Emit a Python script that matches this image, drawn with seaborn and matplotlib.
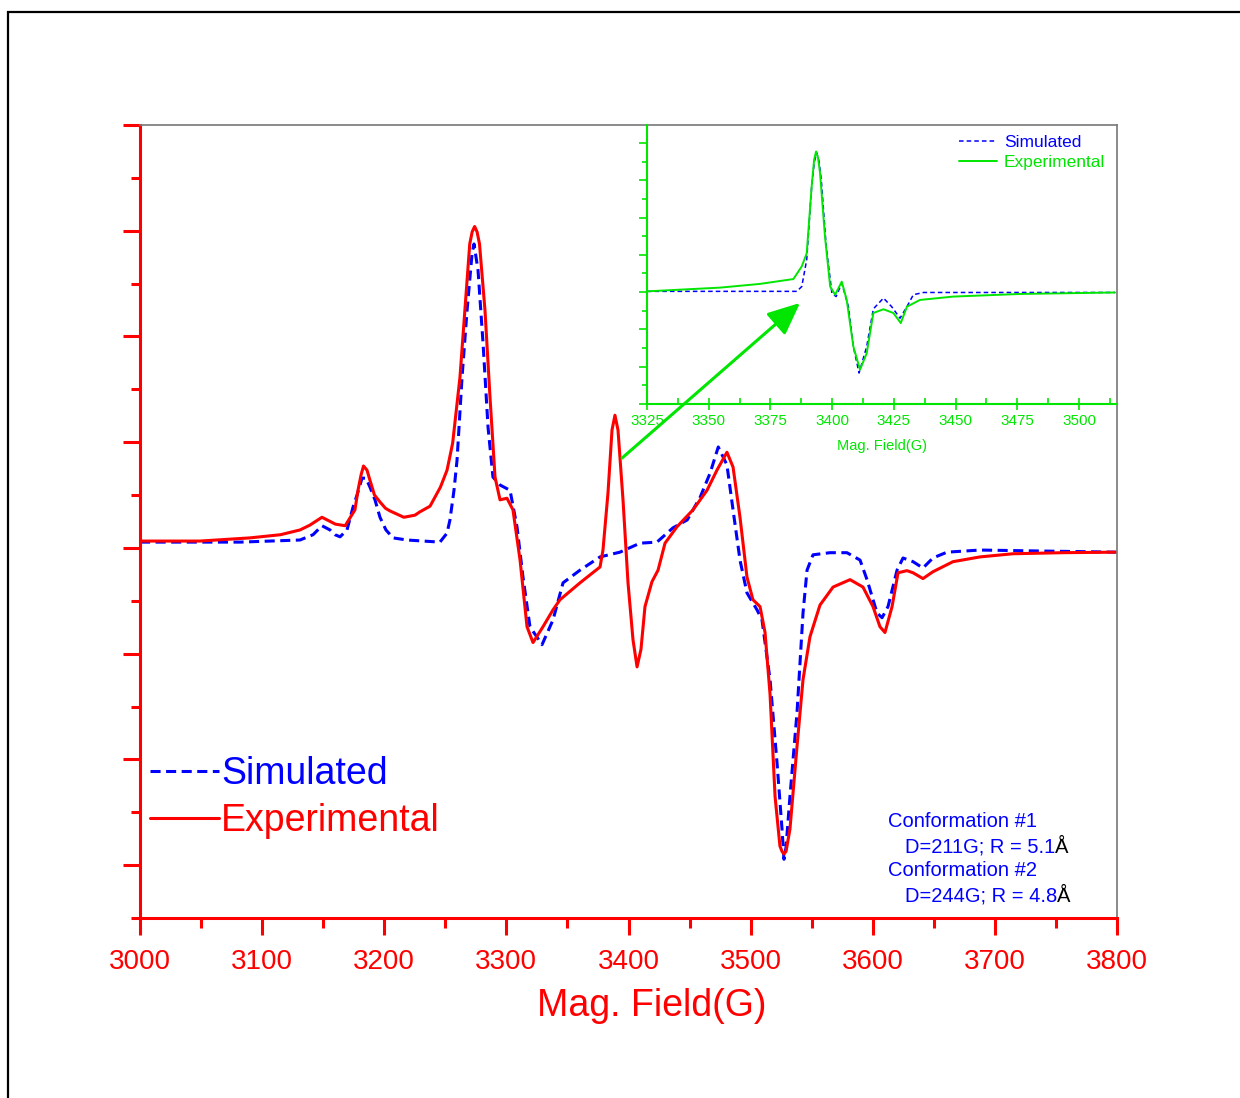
import numpy as np
import pandas as pd
import matplotlib
matplotlib.use("Agg")
import matplotlib.pyplot as plt
from matplotlib.ticker import MultipleLocator, NullFormatter
from matplotlib.patches import Rectangle
import seaborn as sns

# values (field in G, signal in arbitrary units)
exp_field = [3000, 3049, 3090, 3115, 3131, 3139, 3149, 3160, 3168, 3176, 3178.5, 3181,
             3183, 3185.9, 3188.3, 3192, 3196.5, 3201, 3204.7, 3216, 3225.2, 3229,
             3237.5, 3246, 3251.4, 3256, 3262, 3266, 3270, 3272, 3274, 3276, 3278,
             3282.5, 3286.6, 3290.7, 3294.8, 3300.5, 3305.4, 3311.2, 3316.9, 3321.8,
             3330, 3338.2, 3343.9, 3360.3, 3376.7, 3379.1, 3383.2, 3386.5, 3388.9,
             3391.4, 3395.5, 3399.6, 3403.7, 3407, 3410.2, 3413.5, 3419.2, 3424.2,
             3429.9, 3439.7, 3452.8, 3464.3, 3472.4, 3480.6, 3485.6, 3491.3, 3497,
             3501.9, 3507.7, 3511.8, 3515.9, 3520, 3524, 3525.7, 3527.3, 3529, 3532.2,
             3538, 3542.9, 3548.6, 3556.8, 3567.5, 3581.4, 3592, 3600.2, 3605.9, 3610,
             3615.8, 3620.7, 3628, 3633, 3641.1, 3649.3, 3665.7, 3687.8, 3714.8,
             3755.8, 3799]
exp_signal = [0.13, 0.13, 0.19, 0.25, 0.34, 0.43, 0.58, 0.45, 0.42, 0.72, 1.09, 1.38,
              1.55, 1.47, 1.28, 1.00, 0.87, 0.75, 0.70, 0.58, 0.62, 0.68,
              0.79, 1.15, 1.47, 1.98, 3.23, 4.49, 5.75, 5.98, 6.08, 5.98, 5.75,
              4.49, 2.85, 1.34, 0.91, 0.94, 0.72, -0.23, -1.49, -1.79,
              -1.49, -1.17, -0.98, -0.66, -0.36, -0.04, 1.04, 2.23, 2.51,
              2.23, 0.91, -0.66, -1.74, -2.25, -1.92, -1.11, -0.64, -0.42,
              0.09, 0.40, 0.72, 1.09, 1.47, 1.81, 1.53, 0.58, -0.55,
              -0.98, -1.11, -1.60, -2.77, -4.70, -5.64, -5.74, -5.79, -5.74, -5.32,
              -3.75, -2.49, -1.68, -1.08, -0.74, -0.60, -0.74, -1.11, -1.49, -1.60,
              -1.11, -0.47, -0.43, -0.47, -0.58, -0.45, -0.26, -0.17, -0.11,
              -0.09, -0.08]

sim_field = [3000, 3081.9, 3131, 3141.7, 3149, 3155.6, 3159.7, 3163.8, 3169.5, 3174.4,
             3177.7, 3181.8, 3185, 3188.3, 3192.4, 3196.5, 3201.4, 3207.2, 3218.6,
             3245.6, 3251.4, 3253.8, 3257.1, 3259.6, 3263.7, 3267.8, 3271.9, 3273.5,
             3276.8, 3280.9, 3285, 3289, 3294.8, 3303, 3308.7, 3313.6, 3319.3, 3329.2,
             3338.2, 3346.4, 3360.3, 3376.7, 3393, 3409.4, 3423.3, 3436.4, 3448.1,
             3458.7, 3466.9, 3473.5, 3480.6, 3485.6, 3491.3, 3497, 3505.2, 3509.3,
             3515.9, 3521.6, 3525.7, 3527.3, 3529, 3532.2, 3538, 3542.9, 3546.2,
             3551.1, 3565, 3578.9, 3589.6, 3595.3, 3603.5, 3607.6, 3612.5, 3619.9,
             3624.8, 3633, 3641.1, 3649.3, 3660.8, 3687.8, 3742.7, 3799]
sim_signal = [0.11, 0.11, 0.15, 0.25, 0.42, 0.34, 0.25, 0.21, 0.34, 0.77,
              1.00, 1.32, 1.32, 1.15, 0.91, 0.58, 0.34, 0.19, 0.15,
              0.11, 0.28, 0.53, 1.09, 1.66, 3.23, 4.49, 5.57, 5.75,
              5.25, 3.87, 2.28, 1.34, 1.19, 1.09, 0.40, -0.55, -1.49, -1.83,
              -1.36, -0.66, -0.42, -0.17, -0.08, 0.09, 0.11, 0.38, 0.53,
              0.96, 1.42, 1.91, 1.57, 0.72, -0.23, -0.85, -1.17, -1.36,
              -2.49, -4.06, -5.32, -5.89, -5.66, -4.70, -3.11, -1.23, -0.42,
              -0.13, -0.09, -0.09, -0.23, -0.60, -1.23, -1.32, -1.11, -0.42,
              -0.19, -0.26, -0.38, -0.19, -0.08, -0.04, -0.06, -0.08]

# inset (zoomed central line)
in_exp_field = [3325, 3354.6, 3370.8, 3384.3, 3387.7, 3389.7, 3391.7, 3392.7, 3393.5,
                3394.3, 3395.1, 3397.1, 3399.2, 3401.2, 3403.9, 3405.9, 3408.6, 3411.3,
                3414.0, 3416.7, 3420.8, 3424.8, 3427.8, 3430.3, 3435.6, 3449.1, 3476.1,
                3514.6]
in_exp_signal = [0.02, 0.12, 0.22, 0.35, 0.69, 1.04, 2.83, 3.55, 3.77,
                 3.60, 3.19, 1.49, 0.15, -0.07, 0.28, -0.21, -1.46, -2.08,
                 -1.64, -0.56, -0.46, -0.56, -0.83, -0.39, -0.21, -0.12, -0.05,
                 -0.01]
in_sim_field = [3325, 3385.7, 3387.7, 3389.7, 3391.7, 3392.8, 3393.8, 3394.7, 3395.6,
                3397.6, 3399.9, 3401.6, 3403.9, 3406.6, 3408.6, 3410.9, 3414.0, 3416.7,
                3420.8, 3424.1, 3427.5, 3430.3, 3432.9, 3437.0, 3514.6]
in_sim_signal = [0.02, 0.02, 0.15, 0.87, 2.83, 3.50, 3.73, 3.50, 3.01,
                 1.22, -0.03, -0.12, 0.24, -0.39, -1.46, -2.17, -1.46, -0.45,
                 -0.16, -0.39, -0.70, -0.39, -0.07, -0.01, -0.01]

conf_lines = ["Conformation #1", "D=211G; R = 5.1", "Conformation #2", "D=244G; R = 4.8"]

sns.set_style("ticks")
plt.rcParams['font.family'] = ['Liberation Sans', 'DejaVu Sans']

RED = '#ff0000'
BLUE = '#0000ff'
GREEN = '#00e600'

fig = plt.figure(figsize=(12.4, 10.98), dpi=100)
ax = fig.add_axes([140/1240, 1 - 918/1098, 977/1240, 793/1098])

sim_df = pd.DataFrame({"field": sim_field, "signal": sim_signal})
exp_df = pd.DataFrame({"field": exp_field, "signal": exp_signal})
sns.lineplot(data=sim_df, x="field", y="signal", ax=ax, sort=False, estimator=None,
             color=BLUE, lw=2.2, label="Simulated")
ax.lines[-1].set_dashes((3.3, 1.8))
sns.lineplot(data=exp_df, x="field", y="signal", ax=ax, sort=False, estimator=None,
             color=RED, lw=2.2, label="Experimental")

ax.set_xlim(3000, 3800)
ax.set_ylim(-7, 8)
ax.xaxis.set_major_locator(MultipleLocator(100))
ax.xaxis.set_minor_locator(MultipleLocator(50))
ax.yaxis.set_major_locator(MultipleLocator(2))
ax.yaxis.set_minor_locator(MultipleLocator(1))
ax.yaxis.set_major_formatter(NullFormatter())
ax.tick_params(which='both', bottom=True, left=True, top=False, right=False)
ax.tick_params(which='major', direction='out', length=12, width=2.2, color=RED,
               labelcolor=RED, labelsize=20, pad=10.5)
ax.tick_params(which='minor', direction='out', length=6.5, width=2.2, color=RED)
ax.tick_params(axis='x', which='minor', length=7)
for s in ['left', 'bottom']:
    ax.spines[s].set_color(RED)
    ax.spines[s].set_linewidth(2.2)
for s in ['top', 'right']:
    ax.spines[s].set_visible(True)
    ax.spines[s].set_color('#777777')
    ax.spines[s].set_linewidth(1.2)
ax.set_xlabel("Mag. Field(G)", fontsize=27, color=RED, labelpad=9)
ax.xaxis.label.set_x(0.524)
ax.set_ylabel("")

ax.legend(loc='center left', bbox_to_anchor=(0.0102, 0.1519), frameon=False,
          fontsize=27, handlelength=1.85, handletextpad=0.05, labelspacing=0.3,
          borderpad=0, borderaxespad=0, labelcolor='linecolor')

# conformation notes
ys = [0.1211, 0.0895, 0.0593, 0.0277]
xs = [0.7656, 0.783, 0.7656, 0.783]
for i, txt in enumerate(conf_lines):
    t = ax.text(xs[i], ys[i], txt, transform=ax.transAxes, color=BLUE,
                fontsize=14.5, va='center', ha='left')
    if i % 2 == 1:
        ax.annotate("\u00c5", xy=(1, 0), xycoords=t, va='bottom', ha='left',
                    color='black', fontsize=14.5)

# inset
ax_in = fig.add_axes([647/1240, 1 - 404/1098, 470/1240, 279/1098])
ax_in.set_facecolor('none')
in_sim_df = pd.DataFrame({"field": in_sim_field, "signal": in_sim_signal})
in_exp_df = pd.DataFrame({"field": in_exp_field, "signal": in_exp_signal})
sns.lineplot(data=in_sim_df, x="field", y="signal", ax=ax_in, sort=False,
             estimator=None, color=BLUE, lw=1.1, label="Simulated")
ax_in.lines[-1].set_dashes((3, 2))
sns.lineplot(data=in_exp_df, x="field", y="signal", ax=ax_in, sort=False,
             estimator=None, color=GREEN, lw=1.4, label="Experimental")
ax_in.set_xlim(3325, 3515.4)
ax_in.set_ylim(-3, 4.48)
ax_in.xaxis.set_major_locator(MultipleLocator(25))
ax_in.xaxis.set_minor_locator(MultipleLocator(12.5))
ax_in.yaxis.set_major_locator(MultipleLocator(1))
ax_in.yaxis.set_minor_locator(MultipleLocator(0.5))
ax_in.yaxis.set_major_formatter(NullFormatter())
ax_in.tick_params(which='both', bottom=True, left=True, top=False, right=False)
ax_in.tick_params(axis='x', which='major', direction='inout', length=8, width=1.2,
                  color=GREEN, labelcolor=GREEN, labelsize=11, pad=3)
ax_in.tick_params(axis='x', which='minor', direction='in', length=4, width=1.2,
                  color=GREEN)
ax_in.tick_params(axis='y', which='major', direction='out', length=6, width=1.2,
                  color=GREEN)
ax_in.tick_params(axis='y', which='minor', direction='out', length=3.5, width=1.2,
                  color=GREEN)
for s in ['left', 'bottom']:
    ax_in.spines[s].set_color(GREEN)
    ax_in.spines[s].set_linewidth(1.5)
for s in ['top', 'right']:
    ax_in.spines[s].set_visible(False)
ax_in.set_xlabel("Mag. Field(G)", fontsize=10.5, color=GREEN, labelpad=8)
ax_in.set_ylabel("")
ax_in.legend(loc='upper right', bbox_to_anchor=(0.975, 0.965), frameon=False,
             fontsize=12.5, handlelength=2.2, handletextpad=0.4, labelspacing=0.3,
             borderpad=0, borderaxespad=0, labelcolor='linecolor')

ax_in.annotate("", xy=(3387, -0.29), xycoords='data',
               xytext=(3394.7, 1.70), textcoords=ax.transData,
               arrowprops=dict(arrowstyle='-|>,head_length=0.9,head_width=0.4',
                               color=GREEN, lw=2.2, mutation_scale=22,
                               shrinkA=0, shrinkB=0),
               annotation_clip=False)

# outer frame of the figure
fig.patches.append(Rectangle((8/1240, -0.1), 1.2, 1 - 12/1098 + 0.1,
                             transform=fig.transFigure, fill=False,
                             ec='black', lw=1.6))

fig.savefig("out.png", dpi=100)
